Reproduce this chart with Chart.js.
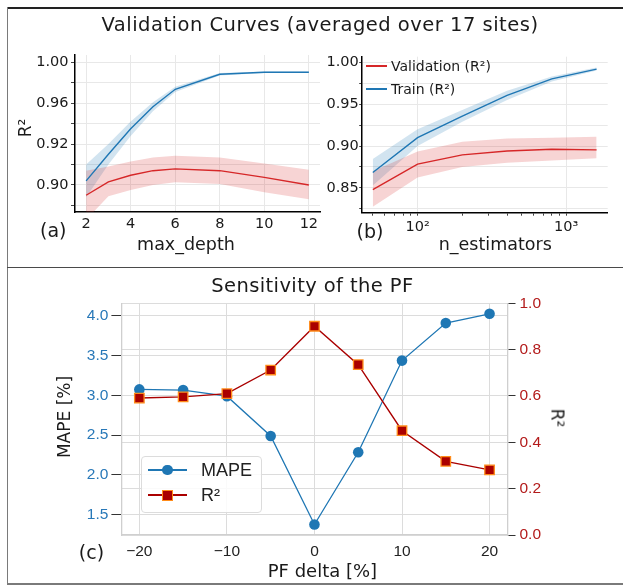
<!DOCTYPE html>
<html><head><meta charset="utf-8">
<script src="https://cdn.jsdelivr.net/npm/chart.js@4.4.1/dist/chart.umd.min.js"></script>
<style>
html,body{margin:0;padding:0;background:#fff;}
#wrap{position:relative;width:623px;height:585px;overflow:hidden;background:#fff;}
canvas{position:absolute;left:0;top:0;width:623px;height:585px;}
.t{position:absolute;white-space:nowrap;line-height:1;font-family:'DejaVu Sans',sans-serif;color:#1a1a1a;transform:translate(-50%,-50%);}
.l{position:absolute;white-space:nowrap;line-height:1;font-family:'DejaVu Sans',sans-serif;color:#1a1a1a;transform:translateY(-50%);}
.b{position:absolute;}
</style></head>
<body>
<div id="wrap">
  <div class="b" style="left:7px;top:7px;width:616px;height:1.5px;background:#222"></div>
  <div class="b" style="left:6.5px;top:7px;width:1.7px;height:578px;background:#7a7a7a"></div>
  <div class="b" style="left:7px;top:266.5px;width:616px;height:1.6px;background:#4a4a4a"></div>
  <div class="b" style="left:7px;top:583.3px;width:616px;height:1.7px;background:#7a7a7a"></div>

  <canvas id="cA" width="623" height="585"></canvas>
  <canvas id="cB" width="623" height="585"></canvas>
  <canvas id="cC" width="623" height="585"></canvas>

  <div class="t" style="left:320px;top:25px;font-size:19.5px;letter-spacing:0.5px">Validation Curves (averaged over 17 sites)</div>
  <div class="t" style="left:25px;top:128px;font-size:17px;transform:translate(-50%,-50%) rotate(-90deg)">R²</div>
  <div class="t" style="left:53.3px;top:230px;font-size:19px">(a)</div>
  <div class="t" style="left:186px;top:245px;font-size:17.5px">max_depth</div>
  <div class="t" style="left:370px;top:230.7px;font-size:19px">(b)</div>
  <div class="t" style="left:495.3px;top:245px;font-size:17.5px">n_estimators</div>

  <div class="b" style="left:366px;top:65px;width:21px;height:1.5px;background:#d62728"></div>
  <div class="l" style="left:391px;top:66px;font-size:14px">Validation (R²)</div>
  <div class="b" style="left:366px;top:88px;width:21px;height:1.5px;background:#1f77b4"></div>
  <div class="l" style="left:391px;top:89.3px;font-size:14px">Train (R²)</div>

  <div class="t" style="left:312.4px;top:285.5px;font-size:19.5px;letter-spacing:0.4px">Sensitivity of the PF</div>
  <div class="t" style="left:63.7px;top:416.7px;font-size:17px;transform:translate(-50%,-50%) rotate(-90deg)">MAPE [%]</div>
  <div class="t" style="left:556.7px;top:418.3px;font-size:17px;transform:translate(-50%,-50%) rotate(90deg)">R²</div>
  <div class="t" style="left:91.5px;top:551.7px;font-size:19px">(c)</div>
  <div class="t" style="left:322.4px;top:570.5px;font-size:18px">PF delta [%]</div>

  <div class="b" style="left:141px;top:455.7px;width:118.7px;height:55px;border:1px solid #dcdcdc;border-radius:4px;background:rgba(255,255,255,0.85)"></div>
  <div class="b" style="left:148.3px;top:469.3px;width:38.4px;height:1.4px;background:#1f77b4"></div>
  <div class="b" style="left:162px;top:464.7px;width:10.6px;height:10.6px;border-radius:50%;background:#1f77b4"></div>
  <div class="l" style="left:201px;top:470px;font-size:18px;font-family:'Liberation Sans',sans-serif;color:#222">MAPE</div>
  <div class="b" style="left:148.3px;top:494.3px;width:38.4px;height:1.4px;background:#aa0000"></div>
  <div class="b" style="left:162.3px;top:490px;width:8.5px;height:8.5px;border:1.3px solid #ff8c1a;background:#aa0000"></div>
  <div class="l" style="left:201px;top:495px;font-size:18px;font-family:'Liberation Sans',sans-serif;color:#222">R²</div>
</div>
<script>
// ---------- panel (a): max_depth ----------
const depthCats  = [2, 3, 4, 5, 6, 8, 10, 12];
const trainA     = [0.884, 0.910, 0.935, 0.9566, 0.9736, 0.9883, 0.9902, 0.9902];
const trainALow  = [0.868, 0.900, 0.928, 0.952, 0.971, 0.987, 0.9895, 0.9895];
const trainAHigh = [0.900, 0.920, 0.942, 0.961, 0.976, 0.9895, 0.991, 0.991];
const valA       = [0.870, 0.883, 0.8895, 0.894, 0.8958, 0.894, 0.8874, 0.880];
const valALow    = [0.846, 0.869, 0.875, 0.880, 0.8826, 0.881, 0.873, 0.866];
const valAHigh   = [0.894, 0.898, 0.903, 0.907, 0.9086, 0.907, 0.901, 0.895];
const xTicksA    = [2, 4, 6, 8, 10, 12];
const xLabelsA   = ['2', '4', '6', '8', '10', '12'];
const yMajorA    = [0.88, 0.92, 0.96, 1.00];
const yLabelsA   = ['0.90', '0.92', '0.96', '1.00'];
const yMinorA    = [0.86, 0.90, 0.94, 0.98];

// ---------- panel (b): n_estimators ----------
const nEst       = [50, 100, 200, 400, 800, 1600];
const trainB     = [0.8685, 0.910, 0.9357, 0.9605, 0.980, 0.9917];
const trainBLow  = [0.853, 0.900, 0.929, 0.955, 0.977, 0.990];
const trainBHigh = [0.8845, 0.920, 0.943, 0.966, 0.983, 0.9935];
const valB       = [0.848, 0.8784, 0.8895, 0.894, 0.8962, 0.8954];
const valBLow    = [0.8275, 0.8626, 0.875, 0.880, 0.8827, 0.8855];
const valBHigh   = [0.870, 0.8934, 0.905, 0.909, 0.910, 0.911];
const xMajorB    = [100, 1000];
const xLabelsB   = ['10²', '10³'];
const xMinorB    = [50, 60, 70, 80, 90, 200, 300, 400, 500, 600, 700, 800, 900];
const yMajorB    = [0.85, 0.90, 0.95, 1.00];
const yLabelsB   = ['0.85', '0.90', '0.95', '1.00'];
const yMinorB    = [0.825, 0.875, 0.925, 0.975];

// ---------- panel (c): PF sensitivity ----------
const pfDelta    = [-20, -15, -10, -5, 0, 5, 10, 15, 20];
const mape       = [3.075, 3.067, 2.99, 2.49, 1.377, 2.285, 3.437, 3.908, 4.025];
const r2         = [0.591, 0.596, 0.610, 0.712, 0.901, 0.735, 0.450, 0.318, 0.281];
const xTicksC    = [-20, -10, 0, 10, 20];
const xLabelsC   = ['−20', '−10', '0', '10', '20'];
const mapeTicks  = [1.5, 2.0, 2.5, 3.0, 3.5, 4.0];
const mapeLabels = ['1.5', '2.0', '2.5', '3.0', '3.5', '4.0'];
const r2Ticks    = [0.0, 0.2, 0.4, 0.6, 0.8, 1.0];
const r2Labels   = ['0.0', '0.2', '0.4', '0.6', '0.8', '1.0'];

// ---------- helpers ----------
const BLUE = '#1f77b4', RED = '#d62728';
const BLUE_BAND = 'rgba(31,119,180,0.2)', RED_BAND = 'rgba(214,39,40,0.2)';
const pts = (xs, ys) => xs.map((x, i) => ({x: x, y: ys[i]}));
const setTicks = vals => s => { s.ticks = vals.slice().sort((a, b) => a - b).map(v => ({value: v})); };
const labelFrom = (vals, labels) => v => { const i = vals.findIndex(m => Math.abs(m - v) < 1e-9); return i < 0 ? '' : labels[i]; };
const isIn = (vals, v) => vals.some(m => Math.abs(m - v) < 1e-9);
const DJ = 'DejaVu Sans', LS = 'Liberation Sans';
const common = {responsive: false, animation: false, devicePixelRatio: 1, maintainAspectRatio: false,
  plugins: {legend: {display: false}, tooltip: {enabled: false}}, events: []};

function lineDs(xs, ys, color, order) {
  return {data: pts(xs, ys), borderColor: color, borderWidth: 1.4, pointRadius: 0, fill: false, tension: 0, order: order};
}
function bandDs(xs, ys, bg, fill, order) {
  return {data: pts(xs, ys), borderWidth: 0, borderColor: 'rgba(0,0,0,0)', backgroundColor: bg, pointRadius: 0, fill: fill, tension: 0, order: order};
}

// ---------- chart (a) ----------
new Chart(document.getElementById('cA'), {
  type: 'line',
  data: {datasets: [
    lineDs(depthCats, valA, RED, 0),
    lineDs(depthCats, trainA, BLUE, 1),
    bandDs(depthCats, valAHigh, RED_BAND, '+1', 2),
    bandDs(depthCats, valALow, RED_BAND, false, 3),
    bandDs(depthCats, trainAHigh, BLUE_BAND, '+1', 4),
    bandDs(depthCats, trainALow, BLUE_BAND, false, 5)
  ]},
  options: Object.assign({}, common, {
    layout: {padding: {left: 0, right: 303, top: 55, bottom: 353}},
    scales: {
      x: {type: 'linear', min: 1.5, max: 12.5,
        afterBuildTicks: setTicks(xTicksA), afterFit: s => { s.height = 20; },
        grid: {color: '#e8e8e8', drawTicks: false},
        border: {color: '#000', width: 1.5},
        ticks: {autoSkip: false, maxRotation: 0, padding: 4, color: '#1a1a1a', font: {family: DJ, size: 14.5},
          callback: labelFrom(xTicksA, xLabelsA)}},
      y: {type: 'linear', min: 0.8536, max: 1.0071,
        afterBuildTicks: setTicks(yMajorA.concat(yMinorA)), afterFit: s => { s.width = 75; },
        grid: {color: '#e8e8e8', tickColor: '#444', tickLength: 4},
        border: {color: '#000', width: 1.5},
        ticks: {autoSkip: false, padding: 2.5, color: '#1a1a1a', font: {family: DJ, size: 14.5},
          callback: labelFrom(yMajorA, yLabelsA)}}
    }
  })
});

// ---------- chart (b) ----------
new Chart(document.getElementById('cB'), {
  type: 'line',
  data: {datasets: [
    lineDs(nEst, valB, RED, 0),
    lineDs(nEst, trainB, BLUE, 1),
    bandDs(nEst, valBHigh, RED_BAND, '+1', 2),
    bandDs(nEst, valBLow, RED_BAND, false, 3),
    bandDs(nEst, trainBHigh, BLUE_BAND, '+1', 4),
    bandDs(nEst, trainBLow, BLUE_BAND, false, 5)
  ]},
  options: Object.assign({}, common, {
    layout: {padding: {left: 300, right: 15.3, top: 56.7, bottom: 352.3}},
    scales: {
      x: {type: 'logarithmic', min: 42.1, max: 1900,
        afterBuildTicks: setTicks(xMajorB.concat(xMinorB)), afterFit: s => { s.height = 20; },
        grid: {color: c => (c.tick && isIn(xMajorB, c.tick.value)) ? '#e8e8e8' : 'rgba(0,0,0,0)', tickColor: '#444', tickLength: 3},
        border: {color: '#000', width: 1.5},
        ticks: {autoSkip: false, maxRotation: 0, padding: 3, color: '#1a1a1a', font: {family: DJ, size: 14.5},
          callback: labelFrom(xMajorB, xLabelsB)}},
      y: {type: 'linear', min: 0.8205, max: 1.0065,
        afterBuildTicks: setTicks(yMajorB.concat(yMinorB)), afterFit: s => { s.width = 61.7; },
        grid: {color: '#e8e8e8', tickColor: '#444', tickLength: 2.5},
        border: {color: '#000', width: 1.5},
        ticks: {autoSkip: false, padding: 0.5, color: '#1a1a1a', font: {family: DJ, size: 14.5},
          callback: labelFrom(yMajorB, yLabelsB)}}
    }
  })
});

// ---------- chart (c) ----------
new Chart(document.getElementById('cC'), {
  type: 'line',
  data: {datasets: [
    {label: 'R²', data: pts(pfDelta, r2), yAxisID: 'y2', borderColor: '#aa0000', borderWidth: 1.4, tension: 0,
     pointStyle: 'rect', pointRadius: 6.7, pointBackgroundColor: '#aa0000', pointBorderColor: '#ff8c1a', pointBorderWidth: 1.3, order: 0, fill: false},
    {label: 'MAPE', data: pts(pfDelta, mape), yAxisID: 'y', borderColor: '#1f77b4', borderWidth: 1.3, tension: 0,
     pointStyle: 'circle', pointRadius: 5.3, pointBackgroundColor: '#1f77b4', pointBorderColor: '#1f77b4', pointBorderWidth: 0, order: 1, fill: false}
  ]},
  options: Object.assign({}, common, {
    layout: {padding: {left: 61.4, right: 55.5, top: 303.3, bottom: 20}},
    scales: {
      x: {type: 'linear', min: -22.05, max: 22.05,
        afterBuildTicks: setTicks(xTicksC), afterFit: s => { s.height = 30; },
        grid: {color: '#dcdcdc', drawTicks: false},
        border: {color: '#cfcfcf', width: 1.3},
        ticks: {autoSkip: false, maxRotation: 0, padding: 7.4, color: '#222', font: {family: LS, size: 15.5},
          callback: labelFrom(xTicksC, xLabelsC)}},
      y: {type: 'linear', position: 'left', min: 1.245, max: 4.157,
        afterBuildTicks: setTicks(mapeTicks), afterFit: s => { s.width = 60; },
        grid: {color: '#dcdcdc', tickColor: '#333', tickLength: 10},
        border: {color: '#cfcfcf', width: 1.3},
        ticks: {autoSkip: false, padding: 3, color: '#2878b8', font: {family: LS, size: 15.5},
          callback: labelFrom(mapeTicks, mapeLabels)}},
      y2: {type: 'linear', position: 'right', min: 0, max: 1,
        afterBuildTicks: setTicks(r2Ticks), afterFit: s => { s.width = 60; },
        grid: {color: '#dcdcdc', tickColor: '#333', tickLength: 8},
        border: {color: '#cfcfcf', width: 1.3},
        ticks: {autoSkip: false, padding: 4, color: '#b31b1b', font: {family: LS, size: 15.5},
          callback: labelFrom(r2Ticks, r2Labels)}}
    }
  })
});
</script>
</body></html>
